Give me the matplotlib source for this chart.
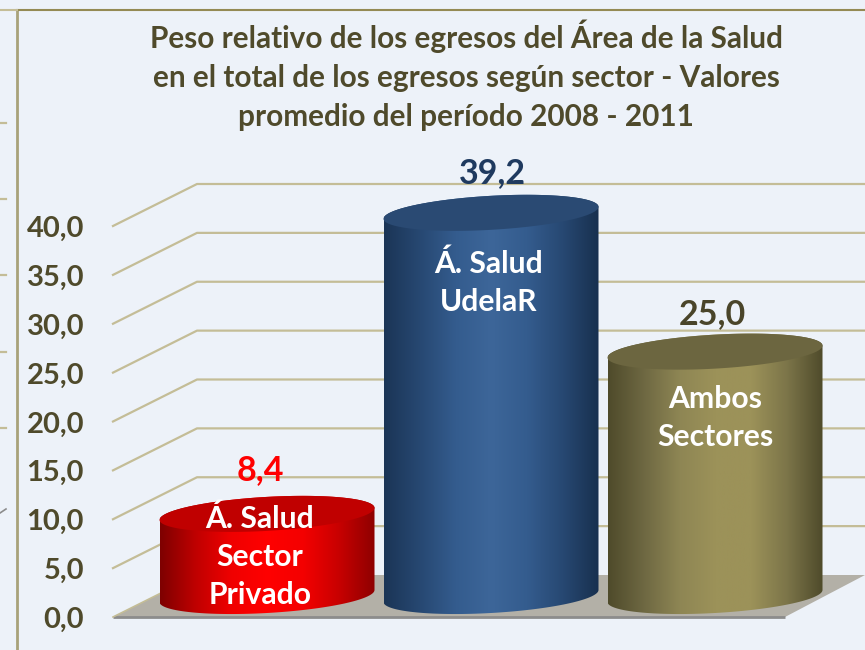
import numpy as np
import matplotlib
matplotlib.use('Agg')
import matplotlib.pyplot as plt
from matplotlib.colors import LinearSegmentedColormap
from matplotlib.patches import Polygon

plt.rcParams['font.family'] = ['Lato', 'DejaVu Sans']

# Datos
sectores = ["Á. Salud\nSector\nPrivado", "Á. Salud\nUdelaR", "Ambos\nSectores"]
valores = [8.4, 39.2, 25.0]
etiquetas_valor = ["8,4", "39,2", "25,0"]
ticks = [0, 5, 10, 15, 20, 25, 30, 35, 40]
tick_labels = ["0,0", "5,0", "10,0", "15,0", "20,0", "25,0", "30,0", "35,0", "40,0"]
titulo = ("Peso relativo de los egresos del Área de la Salud\n"
          "en el total de los egresos según sector - Valores\n"
          "promedio del período 2008 - 2011")

# Estilo
fondo = '#EDF2F9'
color_texto = '#4F4A2B'
color_grid = '#C4BD97'
color_marco = '#948A54'
gradientes = [
    ['#7E0000', '#C00000', '#F00000', '#FF0000', '#F40000', '#C80000', '#8E0000'],
    ['#1B3556', '#274872', '#345C8E', '#3D6699', '#345C8E', '#274872', '#18304F'],
    ['#4F4B2B', '#6E6842', '#8E8654', '#9C9259', '#9C9259', '#7C7549', '#4F4B2B'],
]
tapas = ['#C00000', '#2A4A73', '#6C6640']
color_etiqueta = ['#FF0000', '#1F3A5F', '#4A452A']
x_etiqueta = [260, 492, 712]
y_etiqueta = [470, 173, 314]
x_texto_barra = [260, 489, 715]
y_texto_barra = [557, 283, 418]

# Escalas: la figura completa es un solo eje (px = pixeles de la imagen)
ANCHO, ALTO = 865, 650
PX_X = 224.0
PX_Y = 9.775
X0 = 267.0
Y0 = 617.0


def px_x(p):
    return (p - X0) / PX_X


def px_y(p):
    return (Y0 - p) / PX_Y


fig = plt.figure(figsize=(8.65, 6.5), dpi=100, facecolor=fondo)
ax = fig.add_axes([0, 0, 1, 1])
ax.set_xlim(px_x(0), px_x(ANCHO))
ax.set_ylim(px_y(ALTO), px_y(0))
ax.axis('off')

dx = 84 / PX_X
dy = 42 / PX_Y
x_izq = px_x(113)

# Piso
piso = [(x_izq, 0), (px_x(785), 0), (px_x(865), dy), (x_izq + dx, dy)]
ax.add_patch(Polygon(piso, closed=True, fc='#B3B0A7', ec='none', zorder=1))
ax.plot([x_izq, px_x(785)], [0, 0], color='#8C8C8C', lw=2, zorder=2, solid_capstyle='butt')
ax.plot([x_izq, x_izq + dx], [0, dy], color=color_grid, lw=1.2, zorder=2)

# Grilla
for t in ticks[1:]:
    ax.plot([x_izq, x_izq + dx, px_x(ANCHO)], [t, t + dy, t + dy], color=color_grid, lw=1.6, zorder=1)

for t, lab in zip(ticks, tick_labels):
    ax.text(px_x(84), t - 0.3, lab, ha='right', va='center', fontsize=21, fontweight='bold', color=color_texto)

# Cilindros
a = 107.5 / PX_X
b = 17.0 / PX_Y
inclin = 6.0 / PX_Y
base = 21.0 / PX_Y
t_abajo = np.linspace(np.pi, 2 * np.pi, 80)
t_arriba = np.linspace(0, np.pi, 80)
t_todo = np.linspace(0, 2 * np.pi, 160)

for i, v in enumerate(valores):
    tope = base + v
    # en el eje y hacia arriba: a la izquierda baja, a la derecha sube
    xs_ab = i + a * np.cos(t_abajo)
    ys_ab = base + b * np.sin(t_abajo) + inclin * np.cos(t_abajo)
    xs_ar = i + a * np.cos(t_arriba)
    ys_ar = tope + b * np.sin(t_arriba) + inclin * np.cos(t_arriba)
    lado = Polygon(np.column_stack([np.r_[xs_ab, xs_ar], np.r_[ys_ab, ys_ar]]), closed=True,
                   transform=ax.transData, fc='none', ec='none')
    ax.add_patch(lado)
    cmap = LinearSegmentedColormap.from_list('g%d' % i, gradientes[i])
    im = ax.imshow(np.linspace(0, 1, 256).reshape(1, -1), cmap=cmap, aspect='auto',
                   extent=[i - a, i + a, base - b - inclin, tope + b + inclin], zorder=3)
    im.set_clip_path(lado)
    xs = i + a * np.cos(t_todo)
    ys = tope + b * np.sin(t_todo) + inclin * np.cos(t_todo)
    ax.fill(xs, ys, color=tapas[i], lw=0, zorder=4)

    ax.text(px_x(x_etiqueta[i]), px_y(y_etiqueta[i]), etiquetas_valor[i], ha='center', va='center',
            fontsize=24.5, fontweight='bold', color=color_etiqueta[i], zorder=6)
    ax.text(px_x(x_texto_barra[i]), px_y(y_texto_barra[i]), sectores[i], ha='center', va='center',
            fontsize=21.7, fontweight='bold', color='white', linespacing=1.44, zorder=6)

ax.set_xlim(px_x(0), px_x(ANCHO))
ax.set_ylim(px_y(ALTO), px_y(0))

# Titulo
ax.text(px_x(466), px_y(75), titulo, ha='center', va='center', fontsize=21.4, fontweight='bold',
        color=color_texto, linespacing=1.48)

# Marco y restos del grafico vecino
ax.plot([px_x(17), px_x(17)], [px_y(10), px_y(ALTO)], color='#A8A27A', lw=2, zorder=5)
ax.plot([px_x(17), px_x(ANCHO)], [px_y(10), px_y(10)], color=color_marco, lw=1.5, zorder=5)
ax.plot([px_x(0), px_x(17)], [px_y(10), px_y(10)], color=color_grid, lw=1.5, zorder=5)
for yp in [123, 199, 275, 352, 428]:
    ax.plot([px_x(0), px_x(6)], [px_y(yp), px_y(yp)], color=color_grid, lw=1.6, zorder=5)
ax.plot([px_x(0), px_x(6)], [px_y(513), px_y(509)], color='#8C8C8C', lw=1.2, zorder=5)

fig.savefig("out.png", dpi=100, facecolor=fondo)
plt.close()
